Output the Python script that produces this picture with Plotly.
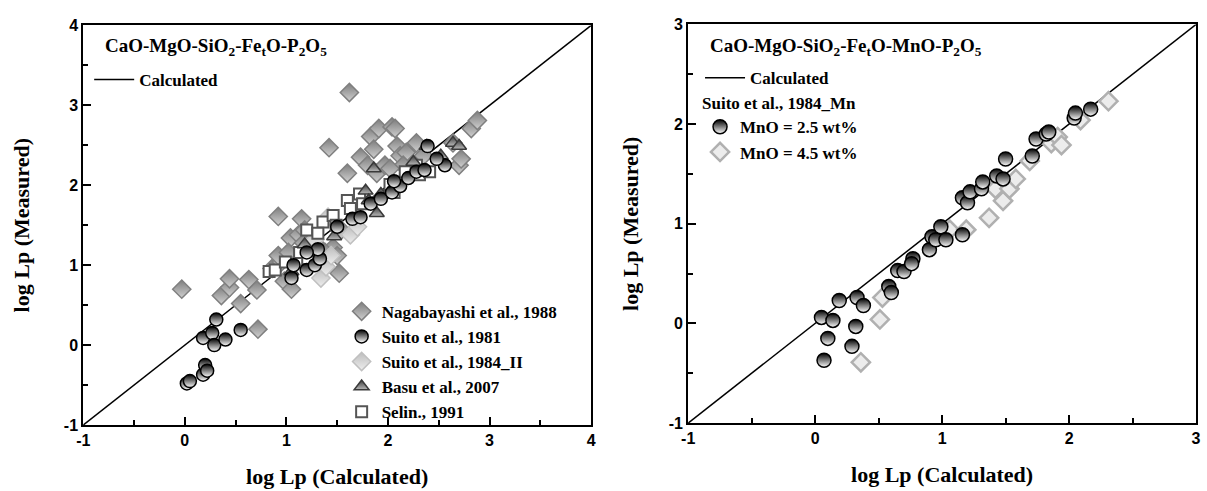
import plotly.graph_objects as go

# ---------------- data (left panel) ----------------
naga_x = [-0.03, 0.36, 0.44, 0.44, 0.55, 0.63, 0.71, 0.72, 0.92, 1.15, 0.86, 0.95, 0.98, 1.05, 0.92, 1.04,
          1.12, 1.18, 1.42, 1.62, 1.60, 1.52, 1.46, 1.50, 1.54, 1.73, 1.80, 1.83, 1.86, 1.91, 2.04, 2.07,
          1.89, 1.97, 2.09, 2.12, 2.18, 2.28, 2.15, 2.35, 2.64, 2.70, 2.72, 2.82, 2.88, 2.02, 1.31, 1.38,
          1.17, 1.02]
naga_y = [0.70, 0.62, 0.72, 0.83, 0.52, 0.82, 0.69, 0.20, 1.61, 1.58, 0.96, 1.04, 0.80, 0.70, 1.12, 1.34,
          1.38, 1.44, 2.47, 3.16, 2.15, 0.90, 1.22, 1.12, 1.44, 2.35, 2.25, 2.61, 2.45, 2.71, 2.73, 2.71,
          2.15, 2.25, 2.49, 2.37, 2.41, 2.53, 2.25, 2.37, 2.53, 2.25, 2.33, 2.71, 2.81, 2.21, 1.24, 1.16,
          1.28, 1.16]

suito81_x = [0.02, 0.05, 0.18, 0.20, 0.22, 0.18, 0.27, 0.31, 0.29, 0.40, 0.55, 1.07, 1.05, 1.20, 1.28, 1.33,
             1.31, 1.20, 1.50, 1.65, 1.73, 1.83, 1.93, 2.04, 2.12, 2.20, 2.28, 2.36, 2.39, 2.56, 2.48, 2.06]
suito81_y = [-0.48, -0.45, -0.37, -0.25, -0.32, 0.09, 0.15, 0.32, 0.00, 0.07, 0.19, 1.00, 0.84, 0.94, 1.00, 1.08,
             1.20, 1.16, 1.48, 1.58, 1.60, 1.77, 1.83, 1.91, 1.99, 2.09, 2.17, 2.19, 2.49, 2.25, 2.33, 2.05]

suito84_x = [1.34, 1.39, 1.63, 1.70, 1.41, 1.44, 1.28]
suito84_y = [0.84, 0.98, 1.38, 1.48, 1.60, 1.12, 1.32]

basu_x = [1.05, 1.18, 1.31, 1.78, 1.86, 1.89, 1.93, 2.25, 2.38, 2.52, 2.64, 2.70, 1.81, 1.47]
basu_y = [0.92, 1.26, 1.16, 1.93, 2.21, 1.65, 1.89, 2.29, 2.49, 2.37, 2.53, 2.49, 1.81, 1.36]

selin_x = [0.83, 0.89, 1.20, 1.36, 1.46, 1.49, 1.60, 1.63, 1.72, 1.75, 2.02, 2.06, 2.17, 2.31, 2.41, 1.13,
           1.21, 0.99, 2.28, 1.31]
selin_y = [0.92, 0.94, 1.44, 1.54, 1.62, 1.50, 1.81, 1.71, 1.89, 1.77, 2.01, 1.91, 2.17, 2.13, 2.17, 1.16,
           1.08, 1.04, 2.25, 1.40]

calc_left = [-1, 4]

# ---------------- data (right panel) ----------------
mn25_x = [0.05, 0.14, 0.10, 0.07, 0.19, 0.33, 0.38, 0.32, 0.29, 0.58, 0.60, 0.65, 0.70, 0.77, 0.76, 0.90,
          0.92, 0.95, 0.99, 1.03, 1.16, 1.16, 1.20, 1.22, 1.31, 1.32, 1.43, 1.50, 1.48, 1.71, 1.74, 1.82,
          1.84, 2.04, 2.05, 2.17]
mn25_y = [0.06, 0.03, -0.15, -0.37, 0.23, 0.26, 0.18, -0.03, -0.23, 0.37, 0.31, 0.53, 0.52, 0.65, 0.60, 0.74,
          0.87, 0.84, 0.97, 0.84, 0.89, 1.26, 1.21, 1.32, 1.35, 1.42, 1.48, 1.65, 1.45, 1.68, 1.85, 1.90,
          1.92, 2.06, 2.11, 2.15]

mn45_x = [0.36, 0.51, 0.53, 1.06, 1.19, 1.37, 1.42, 1.48, 1.53, 1.58, 1.69, 1.86, 1.91, 1.94, 2.09, 2.31]
mn45_y = [-0.39, 0.04, 0.26, 0.94, 0.94, 1.06, 1.35, 1.23, 1.35, 1.45, 1.63, 1.81, 1.87, 1.79, 2.04, 2.23]

calc_right = [-1, 3]

# ---------------- tick labels ----------------
left_ticks = [-1, 0, 1, 2, 3, 4]
right_ticks = [-1, 0, 1, 2, 3]

SERIF = "Liberation Serif, Times New Roman, serif"
SANS = "Liberation Sans, Arial, sans-serif"

fig = go.Figure()

# left panel
fig.add_trace(go.Scatter(x=calc_left, y=calc_left, mode="lines", name="Calculated",
                         line=dict(color="black", width=1.5), legend="legend", xaxis="x", yaxis="y"))
fig.add_trace(go.Scatter(x=naga_x, y=naga_y, mode="markers", name="Nagabayashi et al., 1988",
                         marker=dict(symbol="diamond", size=14, color="#7e7e7e",
                                     gradient=dict(type="vertical", color="#d0d0d0"),
                                     line=dict(color="#808080", width=1.5)),
                         legend="legend2", xaxis="x", yaxis="y", legendrank=1))
fig.add_trace(go.Scatter(x=suito84_x, y=suito84_y, mode="markers", name="Suito et al., 1984_II",
                         marker=dict(symbol="diamond", size=14, color="#bdbdbd",
                                     gradient=dict(type="vertical", color="#eeeeee"),
                                     line=dict(color="#c0c0c0", width=1.5)),
                         legend="legend2", xaxis="x", yaxis="y", legendrank=3))
fig.add_trace(go.Scatter(x=selin_x, y=selin_y, mode="markers", name="Selin., 1991",
                         marker=dict(symbol="square", size=11, color="white",
                                     line=dict(color="#555555", width=2)),
                         legend="legend2", xaxis="x", yaxis="y", legendrank=5))
fig.add_trace(go.Scatter(x=basu_x, y=basu_y, mode="markers", name="Basu et al., 2007",
                         marker=dict(symbol="triangle-up", size=13, color="#3a3a3a",
                                     gradient=dict(type="vertical", color="#bbbbbb"),
                                     line=dict(color="#3a3a3a", width=1.5)),
                         legend="legend2", xaxis="x", yaxis="y", legendrank=4))
fig.add_trace(go.Scatter(x=suito81_x, y=suito81_y, mode="markers", name="Suito et al., 1981",
                         marker=dict(symbol="circle", size=13, color="black",
                                     gradient=dict(type="vertical", color="white"),
                                     line=dict(color="black", width=1.5)),
                         legend="legend2", xaxis="x", yaxis="y", legendrank=2))

# right panel
fig.add_trace(go.Scatter(x=calc_right, y=calc_right, mode="lines", name="Calculated",
                         line=dict(color="black", width=1.5), legend="legend3", xaxis="x2", yaxis="y2"))
fig.add_trace(go.Scatter(x=mn45_x, y=mn45_y, mode="markers", name="MnO = 4.5 wt%",
                         marker=dict(symbol="diamond", size=14, color="#ececec",
                                     line=dict(color="#b0b0b0", width=2.5)),
                         legend="legend4", xaxis="x2", yaxis="y2", legendrank=2))
fig.add_trace(go.Scatter(x=mn25_x, y=mn25_y, mode="markers", name="MnO = 2.5 wt%",
                         marker=dict(symbol="circle", size=14, color="black",
                                     gradient=dict(type="vertical", color="white"),
                                     line=dict(color="black", width=1.5)),
                         legend="legend4", xaxis="x2", yaxis="y2", legendrank=1))

W, H = 1207, 491


def px_x(p):
    return p / W


def px_y(p):
    return (H - p) / H


axis_common = dict(
    showline=True, linewidth=2, linecolor="black", mirror=True,
    ticks="inside", ticklen=8, tickwidth=2, tickcolor="black",
    minor=dict(ticks="inside", ticklen=5, tickwidth=2, tickcolor="black", dtick=0.5),
    showgrid=False, zeroline=False,
    tickfont=dict(family=SANS, size=16, color="black", weight="bold"),
    title_font=dict(family=SERIF, size=22, color="black", weight="bold"),
)

legend_font = dict(family=SERIF, size=17, color="black", weight="bold")

fig.update_layout(
    width=W, height=H,
    margin=dict(l=0, r=0, t=0, b=0),
    paper_bgcolor="white", plot_bgcolor="white",
    xaxis=dict(domain=[px_x(77), px_x(590)], range=[-1, 4], tickvals=left_ticks,
               ticktext=["<b>%d</b>" % v for v in left_ticks], anchor="y",
               title=dict(text="<b>log Lp (Calculated)</b>", standoff=20), **axis_common),
    yaxis=dict(domain=[px_y(432), px_y(18)], range=[-1, 4], tickvals=left_ticks,
               ticktext=["<b>%d</b>" % v for v in left_ticks], anchor="x",
               title=dict(text="<b>log Lp (Measured)</b>", standoff=28), **axis_common),
    xaxis2=dict(domain=[px_x(688), px_x(1201)], range=[-1, 3], tickvals=right_ticks,
                ticktext=["<b>%d</b>" % v for v in right_ticks], anchor="y2",
                title=dict(text="<b>log Lp (Calculated)</b>", standoff=20), **axis_common),
    yaxis2=dict(domain=[px_y(430), px_y(17)], range=[-1, 3], tickvals=right_ticks,
                ticktext=["<b>%d</b>" % v for v in right_ticks], anchor="x2",
                title=dict(text="<b>log Lp (Measured)</b>", standoff=24), **axis_common),
    legend=dict(x=px_x(83), y=px_y(56), xanchor="left", yanchor="top", font=legend_font,
                bgcolor="rgba(0,0,0,0)", itemwidth=40),
    legend2=dict(x=px_x(338), y=px_y(296), xanchor="left", yanchor="top", font=legend_font,
                 bgcolor="rgba(0,0,0,0)", traceorder="normal"),
    legend3=dict(x=px_x(700), y=px_y(54), xanchor="left", yanchor="top", font=legend_font,
                 bgcolor="rgba(0,0,0,0)", itemwidth=40),
    legend4=dict(x=px_x(700), y=px_y(82), xanchor="left", yanchor="top", font=legend_font,
                 bgcolor="rgba(0,0,0,0)", traceorder="normal",
                 title=dict(text="<b>Suito et al., 1984_Mn</b>", font=legend_font)),
    showlegend=True,
    annotations=[
        dict(text="<b>CaO-MgO-SiO<sub>2</sub>-Fe<sub>t</sub>O-P<sub>2</sub>O<sub>5</sub></b>",
             x=px_x(97), y=px_y(40), xref="paper", yref="paper", xanchor="left", yanchor="middle",
             showarrow=False, font=dict(family=SERIF, size=19, color="black", weight="bold")),
        dict(text="<b>CaO-MgO-SiO<sub>2</sub>-Fe<sub>t</sub>O-MnO-P<sub>2</sub>O<sub>5</sub></b>",
             x=px_x(708), y=px_y(40), xref="paper", yref="paper", xanchor="left", yanchor="middle",
             showarrow=False, font=dict(family=SERIF, size=19, color="black", weight="bold")),
    ],
)

fig.write_html("out.html")
